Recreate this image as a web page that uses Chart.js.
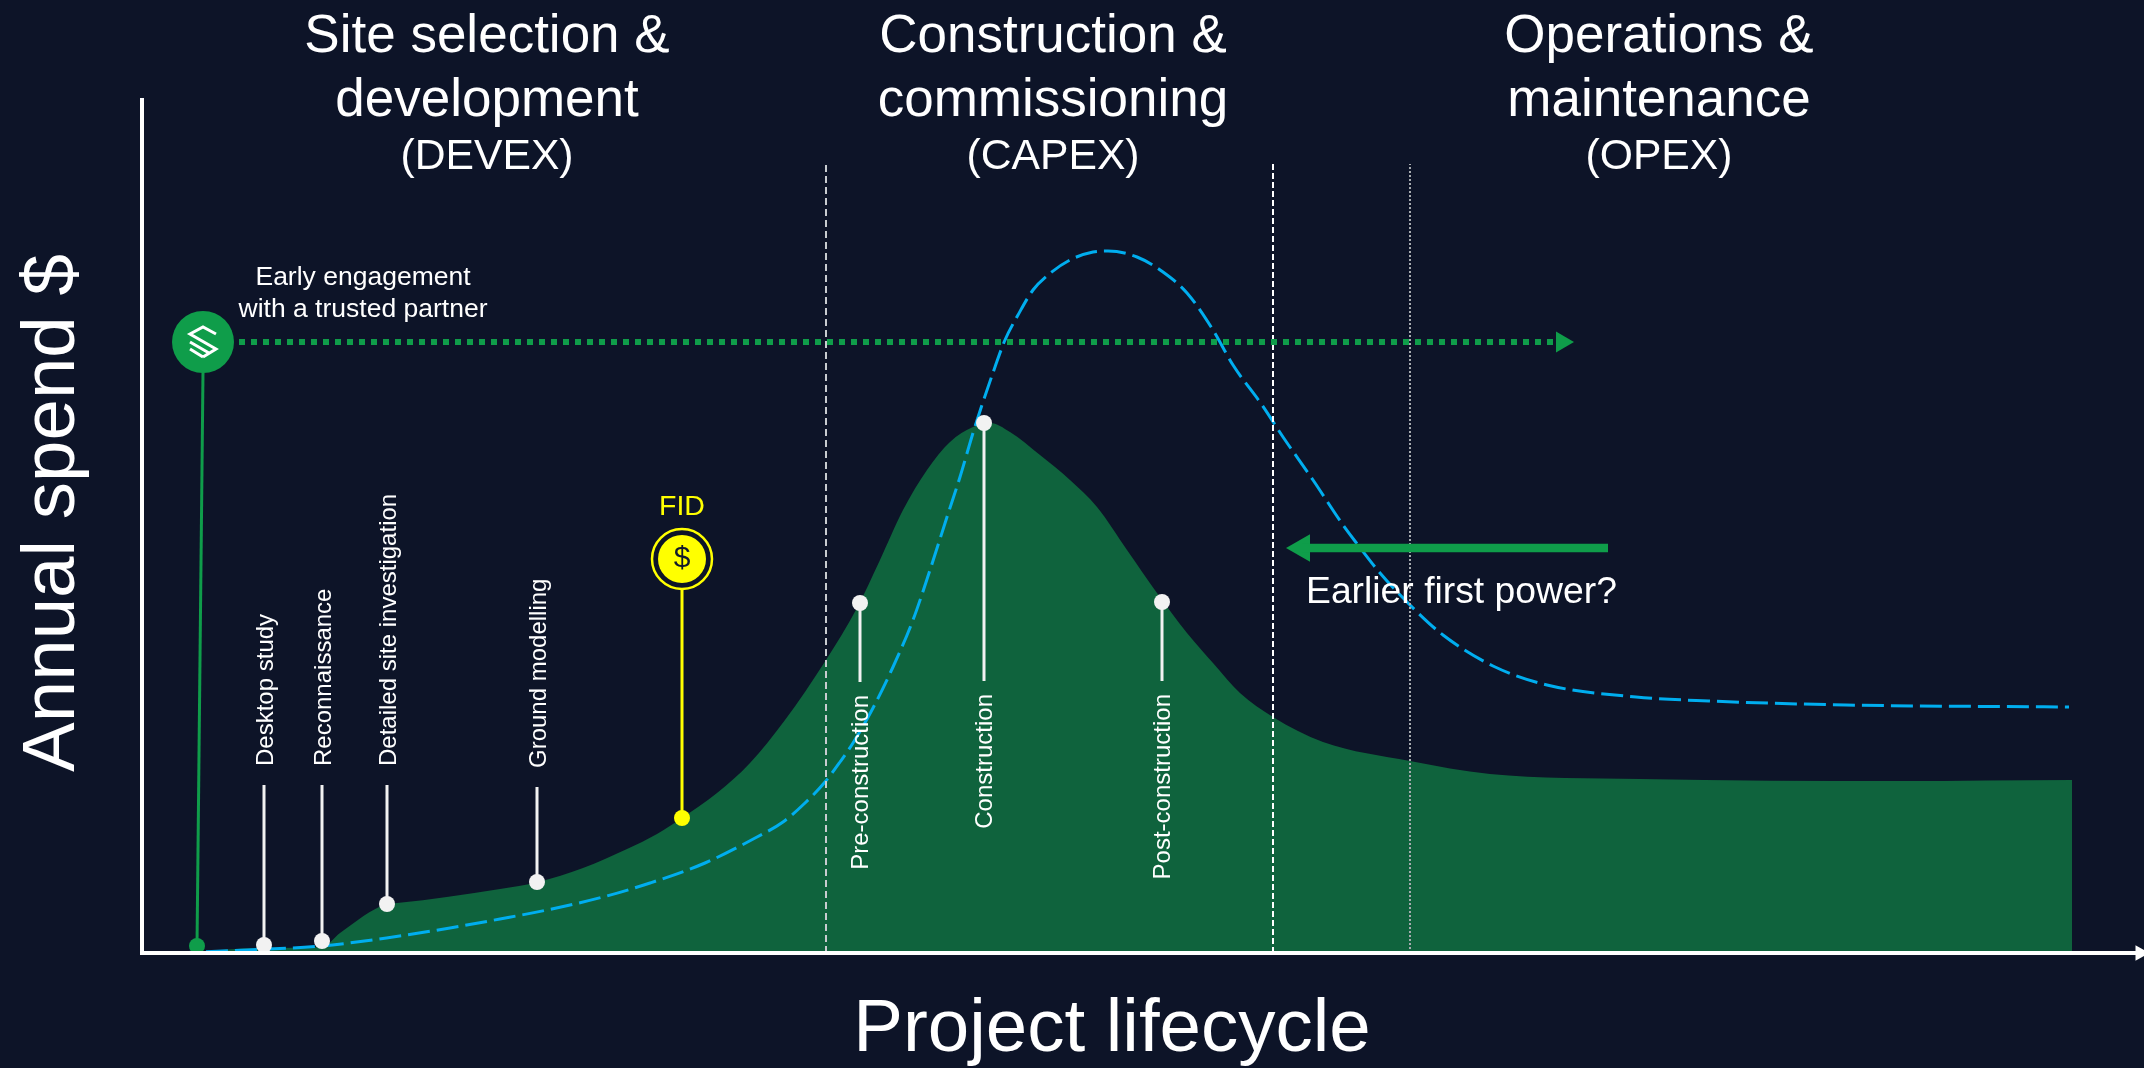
<!DOCTYPE html>
<html>
<head>
<meta charset="utf-8">
<title>Annual spend over the project lifecycle</title>
<script src="https://cdn.jsdelivr.net/npm/chart.js@4/dist/chart.umd.min.js"></script>
<style>
  html, body { margin: 0; padding: 0; background: #0d1428; overflow: hidden; }
  #wrap { width: 2144px; height: 1068px; }
</style>
</head>
<body>
<div id="wrap"><canvas id="lifecycleChart" width="2144" height="1068"></canvas></div>
<script>
// spend curves
var greenX = [35, 122, 180, 198, 245, 255, 358, 396, 441, 485, 515, 540, 575, 608, 643, 684, 715, 738, 761, 785, 808, 831, 848, 868, 898, 928, 955, 985, 1015, 1045, 1071, 1098, 1131, 1181, 1268, 1348, 1498, 1758, 1930];
var greenSpend = [0, 5, 6, 20, 49, 50, 64, 71, 85, 104, 119, 135, 160, 190, 233, 293, 345, 393, 443, 483, 511, 526, 530, 521, 498, 473, 446, 403, 360, 320, 290, 260, 236, 211, 192, 179, 174, 172, 173];
var blueX = [35, 105, 180, 251, 308, 358, 405, 461, 508, 563, 615, 641, 663, 683, 698, 711, 731, 751, 771, 788, 805, 818, 831, 840, 853, 863, 876, 891, 906, 928, 951, 966, 995, 1021, 1045, 1071, 1091, 1120, 1141, 1171, 1201, 1216, 1238, 1268, 1301, 1351, 1405, 1494, 1567, 1704, 1927];
var blueSpend = [0, 3, 7, 16, 25, 34, 43, 56, 70, 90, 116, 131, 150, 171, 191, 210, 245, 286, 333, 383, 436, 476, 520, 548, 586, 613, 638, 663, 678, 693, 701, 702, 696, 681, 660, 623, 588, 548, 516, 473, 428, 408, 380, 348, 318, 287, 268, 256, 252, 248, 246];

// white milestones
var upperNames = ['Desktop study', 'Reconnaissance', 'Detailed site investigation', 'Ground modelling'];
var upperX = [122, 180, 245, 395];
var upperSpend = [8, 12, 49, 71];
var upperStemTop = [168, 168, 168, 166];
var lowerNames = ['Pre-construction', 'Construction', 'Post-construction'];
var lowerX = [718, 842, 1020];
var lowerSpend = [350, 530, 351];
var lowerStemEnd = [271, 272, 272];

// FID and partner markers
var fidX = 540;
var fidSpend = 135;
var fidCoin = 394;
var partnerX = [55, 61];
var partnerY = [7, 581];
var engageY = 611;
var engageEnd = 1418;
var firstPowerY = 405;
var firstPowerFrom = 1466;
var firstPowerTo = 1160;
var axisEnd = 1998;

// phase boundaries
var boundaryX = [684, 1131, 1268];
var boundaryTop = 789;

var BG = '#0d1428';
var AREA = '#0f633d';
var GREEN = '#0f9d4a';
var BLUE = '#00aeef';
var WHITE = '#f2f2f2';
var YELLOW = '#ffff00';
var FONT = '"Liberation Sans", Arial, sans-serif';

function pairs(xs, ys) {
  return xs.map(function(x, i) { return { x: x, y: ys[i] }; });
}

function stem(x, y0, y1, color, order, width) {
  return {
    type: 'line', data: [{ x: x, y: y0 }, { x: x, y: y1 }],
    borderColor: color, borderWidth: width || 3, pointRadius: 0, order: order
  };
}

function dots(points, color, radius, order) {
  return {
    type: 'scatter', data: points,
    backgroundColor: color, borderColor: color, borderWidth: 0, pointRadius: radius, order: order, clip: false
  };
}

function arrowHead(x, y, color, radius, rotation, order) {
  return {
    type: 'scatter', data: [{ x: x, y: y }],
    pointStyle: 'triangle', rotation: rotation, pointRadius: radius,
    backgroundColor: color, borderColor: color, borderWidth: 0, order: order, clip: false
  };
}

var datasets = [];

datasets.push({
  type: 'line', label: 'Spend', data: pairs(greenX, greenSpend),
  borderWidth: 0, backgroundColor: AREA, fill: 'origin', pointRadius: 0,
  cubicInterpolationMode: 'monotone', order: 50
});
datasets.push({
  type: 'line', label: 'Later first power', data: pairs(blueX, blueSpend),
  borderColor: BLUE, borderWidth: 3, borderDash: [22, 7], fill: false, pointRadius: 0,
  cubicInterpolationMode: 'monotone', order: 40
});

// phase boundaries
datasets.push(Object.assign(stem(boundaryX[0], 0, boundaryTop, '#c8ccd0', 30, 2), { borderDash: [7, 4] }));
datasets.push(Object.assign(stem(boundaryX[1], 0, boundaryTop, '#ffffff', 30, 2), { borderDash: [6, 3] }));
datasets.push(Object.assign(stem(boundaryX[2], 0, boundaryTop, '#a8acb0', 30, 2), { borderDash: [2, 2] }));

// engagement arrow
datasets.push(Object.assign(stem(0, engageY, engageY, GREEN, 20, 6), {
  data: [{ x: partnerX[1], y: engageY }, { x: engageEnd, y: engageY }], borderDash: [6, 6]
}));
datasets.push(arrowHead(engageEnd + 2, engageY, GREEN, 12, 90, 20));

// earlier first power arrow
datasets.push(Object.assign(stem(0, firstPowerY, firstPowerY, GREEN, 20, 8.5), {
  data: [{ x: firstPowerFrom, y: firstPowerY }, { x: firstPowerTo, y: firstPowerY }]
}));
datasets.push(arrowHead(firstPowerTo, firstPowerY, GREEN, 16, -90, 20));

// partner pin
datasets.push(Object.assign(stem(0, 0, 0, GREEN, 15, 3), { data: pairs(partnerX, partnerY) }));
datasets.push(dots([{ x: partnerX[0], y: partnerY[0] }], GREEN, 8, 14));
datasets.push(dots([{ x: partnerX[1], y: engageY }], GREEN, 31, 14));

// milestones
upperX.forEach(function(x, i) {
  datasets.push(stem(x, upperSpend[i], upperStemTop[i], WHITE, 12));
  datasets.push(dots([{ x: x, y: upperSpend[i] }], WHITE, 8, 11));
});
lowerX.forEach(function(x, i) {
  datasets.push(stem(x, lowerSpend[i], lowerStemEnd[i], WHITE, 12));
  datasets.push(dots([{ x: x, y: lowerSpend[i] }], WHITE, 8, 11));
});

// FID
datasets.push(stem(fidX, fidSpend, fidCoin, YELLOW, 12));
datasets.push(dots([{ x: fidX, y: fidSpend }], YELLOW, 8, 11));
datasets.push({
  type: 'scatter', data: [{ x: fidX, y: fidCoin }],
  backgroundColor: BG, borderColor: YELLOW, borderWidth: 2.5, pointRadius: 30, order: 10, clip: false
});
datasets.push(dots([{ x: fidX, y: fidCoin }], YELLOW, 24, 9));

// x axis arrow
datasets.push(arrowHead(axisEnd, 0, '#ffffff', 9, 90, 5));

// text drawn on top of the marks, anchored through the scales
var labelsPlugin = {
  id: 'lifecycleLabels',
  afterDraw: function(chart) {
    var ctx = chart.ctx;
    var sx = chart.scales.x;
    var sy = chart.scales.y;

    function text(str, px, py, size, color, align, rotate) {
      ctx.save();
      ctx.translate(px, py);
      if (rotate) ctx.rotate(-Math.PI / 2);
      ctx.font = size + 'px ' + FONT;
      ctx.fillStyle = color;
      ctx.textAlign = align || 'center';
      ctx.textBaseline = 'middle';
      ctx.fillText(str, 0, 0);
      ctx.restore();
    }

    text('Site selection &', 487, 37, 53, '#ffffff');
    text('development', 487, 101, 53, '#ffffff');
    text('(DEVEX)', 487, 157, 42.7, '#ffffff');
    text('Construction &', 1053, 37, 53, '#ffffff');
    text('commissioning', 1053, 101, 53, '#ffffff');
    text('(CAPEX)', 1053, 157, 42.7, '#ffffff');
    text('Operations &', 1659, 37, 53, '#ffffff');
    text('maintenance', 1659, 101, 53, '#ffffff');
    text('(OPEX)', 1659, 157, 42.7, '#ffffff');

    text('Annual spend $', 53, 513, 74.5, '#ffffff', 'center', true);
    text('Project lifecycle', 1112, 1030, 74.5, '#ffffff');

    text('Early engagement', 363, 278, 26.5, '#ffffff');
    text('with a trusted partner', 363, 310, 26.5, '#ffffff');
    text('Earlier first power?', 1306, 593, 37.3, '#ffffff', 'left');

    upperNames.forEach(function(name, i) {
      text(name, sx.getPixelForValue(upperX[i]) + 2, sy.getPixelForValue(upperStemTop[i]) - 19, 24, '#ffffff', 'left', true);
    });
    lowerNames.forEach(function(name, i) {
      text(name, sx.getPixelForValue(lowerX[i]) + 1, sy.getPixelForValue(lowerStemEnd[i]) + 13, 24, '#ffffff', 'right', true);
    });

    var fx = sx.getPixelForValue(fidX);
    text('FID', fx, 507, 28.5, YELLOW);
    text('$', fx, sy.getPixelForValue(fidCoin), 30, '#10182c');

    // partner logo
    var lx = sx.getPixelForValue(partnerX[1]);
    var ly = sy.getPixelForValue(engageY);
    ctx.save();
    ctx.translate(lx, ly);
    ctx.strokeStyle = '#ffffff';
    ctx.lineWidth = 3;
    ctx.lineJoin = 'miter';
    ctx.beginPath();
    ctx.moveTo(13, -8); ctx.lineTo(0, -15); ctx.lineTo(-13, -8); ctx.lineTo(13, 7); ctx.lineTo(0, 15);
    ctx.moveTo(-13, 0); ctx.lineTo(6, 11);
    ctx.moveTo(-13, 7); ctx.lineTo(0, 15);
    ctx.stroke();
    ctx.restore();
  }
};

new Chart(document.getElementById('lifecycleChart').getContext('2d'), {
  data: { datasets: datasets },
  plugins: [labelsPlugin],
  options: {
    responsive: false,
    animation: false,
    events: [],
    layout: { autoPadding: false, padding: { top: 100, left: 0, right: 0, bottom: 0 } },
    plugins: { legend: { display: false }, tooltip: { enabled: false }, title: { display: false } },
    scales: {
      x: {
        type: 'linear', min: 0, max: 2002,
        grid: { display: false },
        border: { color: '#ffffff', width: 4, z: 1 },
        ticks: { display: false },
        afterFit: function(scale) { scale.height = 115; }
      },
      y: {
        type: 'linear', min: 0, max: 853,
        grid: { display: false },
        border: { color: '#ffffff', width: 4, z: 1 },
        ticks: { display: false },
        afterFit: function(scale) { scale.width = 142; }
      }
    }
  }
});
</script>
</body>
</html>
